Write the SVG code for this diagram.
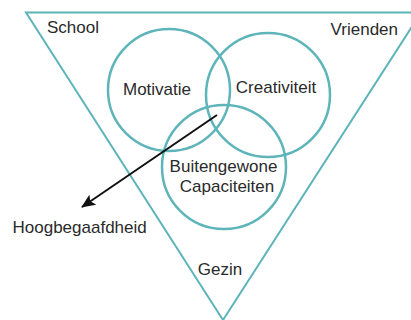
<svg xmlns="http://www.w3.org/2000/svg" width="411" height="320" viewBox="0 0 411 320">
<style>
.t{font-family:"Liberation Sans",Arial,sans-serif;font-size:17px;fill:#2a2a2a;}
.c{fill:none;stroke:#5db4b9;stroke-width:2.5;}
.tri{fill:none;stroke:#5db4b9;stroke-width:2;}
</style>
<defs>
<marker id="ah" markerWidth="14" markerHeight="12" refX="13" refY="6" orient="auto" markerUnits="userSpaceOnUse">
<path d="M0,0 L14,6 L0,12 L3,6 Z" fill="#111"/>
</marker>
</defs>
<rect width="411" height="320" fill="#fff"/>
<g id="context">
<path class="tri" d="M26,12.5 L421,12.5 L223,320 Z"/>
<text class="t" x="47" y="33">School</text>
<text class="t" x="398" y="35" text-anchor="end">Vrienden</text>
<text class="t" x="220" y="275" text-anchor="middle">Gezin</text>
</g>
<g id="motivatie">
<circle class="c" cx="169" cy="90" r="61"/>
<text class="t" x="157" y="95" text-anchor="middle">Motivatie</text>
</g>
<g id="creativiteit">
<circle class="c" cx="268" cy="95" r="62"/>
<text class="t" x="276" y="93" text-anchor="middle">Creativiteit</text>
</g>
<g id="capaciteiten">
<circle class="c" cx="224" cy="167" r="62"/>
<text class="t" x="223.5" y="172" text-anchor="middle">Buitengewone</text>
<text class="t" x="227" y="192" text-anchor="middle">Capaciteiten</text>
</g>
<g id="hoogbegaafdheid">
<text class="t" x="12.5" y="233">Hoogbegaafdheid</text>
</g>
<g id="connectors">
<line x1="217" y1="115" x2="82" y2="207" stroke="#111" stroke-width="2" marker-end="url(#ah)"/>
</g>
</svg>
